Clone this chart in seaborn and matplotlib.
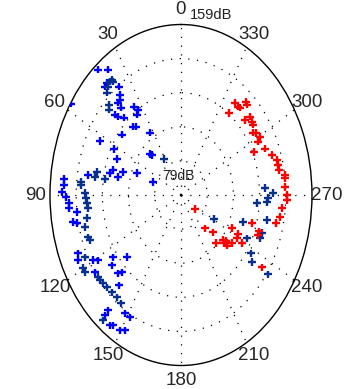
import numpy as np
import pandas as pd
import matplotlib
matplotlib.use("Agg")
import matplotlib.pyplot as plt
import seaborn as sns

sns.set_style("white")
plt.rcParams['font.family'] = ['Liberation Sans', 'DejaVu Sans']

# ---- data (angle in degrees, level in dB) ----
blue_theta = [40.8, 37.2, 40.6, 42.4, 36.7, 38.4, 39.8, 41.6, 41.8, 46.9, 46.3, 43.8,
              34.7, 33.3, 35.5, 42.5, 40.7, 51.9, 33.0, 62.8, 57.5, 62.1, 66.6, 44.5,
              80.6, 76.6, 74.2, 77.6, 73.0, 69.0, 70.4, 84.0, 86.2, 88.9, 90.8, 93.1,
              95.1, 97.2, 100.9, 101.7, 113.5, 115.9, 119.6, 121.1, 124.6, 125.1, 128.0,
              131.5, 133.7, 135.2, 138.2, 148.4, 151.5, 140.5, 140.6, 144.7, 145.8,
              149.6, 151.7, 43.2]
blue_db = [156.7, 152.8, 148.4, 147.8, 142.4, 139.0, 137.2, 136.9, 134.0, 134.2, 132.2, 129.2,
           129.4, 126.8, 125.3, 122.4, 121.2, 124.8, 113.8, 134.6, 158.7, 125.2, 121.6, 106.0,
           136.6, 123.6, 122.2, 118.4, 116.0, 107.8, 97.2, 150.8, 150.6, 151.6, 149.2, 147.5,
           147.6, 143.0, 146.1, 143.9, 147.6, 148.9, 140.8, 138.2, 142.8, 129.8, 132.5,
           123.0, 132.2, 130.1, 135.8, 144.2, 144.4, 149.1, 152.1, 154.0, 152.9,
           152.7, 151.2, 104.8]

navy_theta = [39.2, 37.9, 38.0, 41.3, 43.3, 46.1, 47.7, 31.5, 78.1, 80.8, 80.8, 84.3, 85.6,
              89.1, 91.4, 93.7, 96.1, 100.7, 104.4, 109.2, 110.9, 116.5, 119.8, 121.7,
              127.2, 128.9, 131.0, 133.8, 137.3, 140.8, 144.2, 141.0,
              273.7, 271.0, 268.4, 266.4, 265.4, 240.8, 251.4, 257.4, 250.1, 247.2,
              243.3, 237.4, 234.0, 235.0]
navy_db = [147.6, 147.6, 146.4, 146.6, 144.9, 140.0, 138.4, 98.9, 131.4, 132.2, 126.0, 140.4, 140.2,
           137.6, 137.0, 136.5, 136.1, 137.4, 139.6, 139.2, 138.5, 144.5, 148.0, 148.0,
           142.7, 142.6, 142.1, 141.6, 141.2, 140.9, 141.6, 154.7,
           130.4, 135.2, 132.1, 131.6, 125.6, 102.1, 118.9, 132.8, 131.6, 131.3,
           124.1, 129.7, 132.6, 143.9]

red_theta = [322.7, 320.0, 317.8, 316.4, 322.8, 318.7, 311.1, 312.0, 308.4, 306.8, 303.6,
             302.5, 299.5, 298.0, 294.4, 292.9, 288.7, 285.7, 283.4, 281.1, 278.5, 277.2,
             273.4, 270.0, 267.9, 264.4, 260.3, 257.2, 232.5, 223.3, 228.2, 230.5, 231.2,
             223.4, 234.1, 243.5, 242.2, 239.4, 238.8, 253.1, 250.4, 248.2, 235.5,
             229.0, 232.0, 230.0]
red_db = [133.4, 133.1, 138.0, 137.5, 127.4, 133.6, 134.9, 131.6, 134.3, 134.0, 131.8,
          133.3, 134.4, 132.3, 128.0, 134.7, 137.7, 139.9, 139.9, 140.0, 143.2, 143.0,
          142.6, 143.7, 143.8, 141.0, 140.4, 138.5, 89.8, 100.4, 105.2, 112.3, 115.0,
          110.0, 117.4, 113.8, 118.4, 118.7, 122.6, 124.4, 129.6, 129.6, 139.0,
          113.5, 114.0, 116.0]

angle_ticks = list(range(0, 360, 30))
angle_labels = [str(a) for a in angle_ticks]
r_min, r_max = 79, 159
ring_levels = [95, 111, 127, 143]

frames = []
for name, th, db in [("blue", blue_theta, blue_db), ("navy", navy_theta, navy_db),
                     ("red", red_theta, red_db)]:
    frames.append(pd.DataFrame({"theta": np.deg2rad(th), "db": db, "series": name}))
df = pd.concat(frames, ignore_index=True)

palette = {"blue": "#0000ff", "navy": "#08308f", "red": "#ff0000"}

fig = plt.figure(figsize=(3.55, 3.89), dpi=100)
ax = fig.add_axes([0.1408, 0.0604, 0.738, 0.8766], projection='polar')
ax.set_theta_zero_location('N')
ax.set_theta_direction(1)

sns.scatterplot(data=df, x="theta", y="db", hue="series", palette=palette,
                marker="+", s=28, linewidth=1.7, legend=False, ax=ax, zorder=3)

ax.set_rlim(r_min, r_max)
ax.set_thetagrids(angle_ticks, angle_labels, fontsize=13.5)
ax.set_rgrids(ring_levels, labels=[""] * len(ring_levels))
ax.grid(True, color='black', linestyle=(0, (1, 6)), linewidth=0.9)
ax.spines['polar'].set_linewidth(1.0)
ax.spines['polar'].set_color('black')
ax.set_aspect('auto')
ax.set_xlabel("")
ax.set_ylabel("")
ax.tick_params(axis='x', pad=0)

ax.text(0.489, 0.556, "79dB", transform=ax.transAxes, ha='center', va='center',
        fontsize=10, color='#222222')
ax.text(0.615, 1.028, "159dB", transform=ax.transAxes, ha='center', va='center',
        fontsize=10.5, color='#222222')

fig.savefig("out.png", dpi=100)
